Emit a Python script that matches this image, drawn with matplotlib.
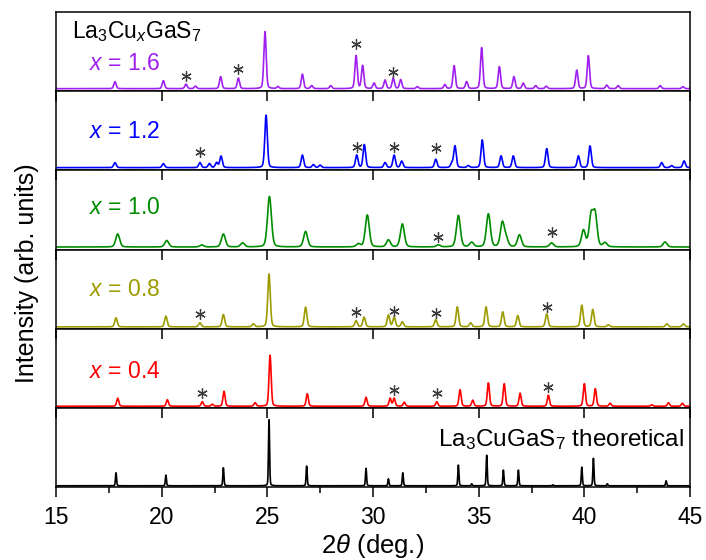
import numpy as np
import matplotlib
matplotlib.use("Agg")
import matplotlib.pyplot as plt

plt.rcParams['font.family'] = ['Liberation Sans', 'DejaVu Sans']
plt.rcParams['mathtext.fontset'] = 'custom'
plt.rcParams['mathtext.rm'] = 'Liberation Sans'
plt.rcParams['mathtext.it'] = 'Liberation Sans:italic'
plt.rcParams['mathtext.bf'] = 'Liberation Sans:bold'

# ---------------- data (peak positions in 2theta, heights in arb. units) -----
x16_pos = [17.79, 20.08, 21.15, 21.6, 22.79, 23.63, 24.89, 25.5, 26.66, 27.1, 28.0,
           29.2, 29.51, 30.05, 30.57, 30.96, 31.31, 32.1, 33.4, 33.84, 34.43, 35.14,
           35.98, 36.67, 37.11, 37.7, 38.2, 39.64, 40.19, 41.06, 41.6, 43.59, 44.67]
x16_int = [7, 8, 4.5, 2.5, 12, 10.5, 57, 2, 14.5, 3, 3,
           33, 23, 5.5, 8.5, 10.5, 9, 2, 4, 23, 7, 41,
           22, 12, 5.5, 3, 2.5, 18.5, 33, 3.5, 3, 3, 2]
x16_star_pos = [21.15, 23.63, 29.2, 30.96]
x16_star_y = [12.5, 19.5, 45, 17]

x12_pos = [17.79, 20.08, 21.81, 22.26, 22.6, 22.81, 24.94, 26.66, 27.18, 27.5, 29.23,
           29.59, 30.57, 31.0, 31.36, 32.97, 33.73, 33.88, 34.51, 35.17, 36.06, 36.64,
           38.22, 39.72, 40.27, 43.66, 44.13, 44.72]
x12_int = [5, 4, 5, 4, 5, 11.5, 52.5, 12.5, 3, 2.5, 12.5,
           23, 5, 12.5, 6.5, 8.3, 4, 21.7, 2, 27.7, 11.7, 11.7,
           19, 11.7, 21.7, 5, 2, 6.7]
x12_star_pos = [21.81, 29.23, 31.0, 32.97]
x12_star_y = [15.5, 21, 21, 19.5]

x10_pos = [17.92, 20.24, 21.9, 22.92, 23.83, 25.1, 26.81, 29.31, 29.73, 30.73, 31.39,
           33.09, 34.04, 34.67, 35.46, 36.12, 36.3, 36.93, 38.45, 39.96, 40.32, 40.51,
           40.98, 43.82]
x10_int = [13, 6.5, 2, 13, 4, 50.5, 15.5, 3, 32, 7, 23,
           2, 31.5, 4.5, 33, 24, 8, 12, 4, 16.5, 30.5, 32,
           4, 5]
x10_star_pos = [33.09, 38.45]
x10_star_y = [10.5, 15]

x08_pos = [17.84, 20.2, 21.81, 22.92, 24.34, 25.08, 26.81, 29.2, 29.58, 30.73, 31.0,
           31.39, 32.97, 33.99, 34.62, 35.35, 36.14, 36.85, 38.22, 39.88, 40.4, 41.14,
           43.9, 44.69]
x08_int = [9, 10.7, 4, 12.3, 3, 53, 19.7, 6.3, 9.7, 11.7, 9.7,
           5, 7.3, 20, 4, 20, 15, 11.3, 13, 21.7, 17.3, 2,
           3, 3]
x08_star_pos = [21.81, 29.2, 31.0, 32.97, 38.22]
x08_star_y = [12.5, 14.5, 16, 13.5, 20]

x04_pos = [17.92, 20.27, 21.92, 22.4, 22.95, 24.42, 25.13, 26.89, 29.67, 30.81, 31.0,
           31.48, 33.02, 34.12, 34.72, 35.46, 36.21, 36.96, 38.3, 40.0, 40.52, 41.22,
           43.19, 43.98, 44.64]
x04_int = [8, 6.5, 4.5, 2, 15, 3.5, 51, 12.5, 9, 8, 8,
           4, 4.5, 16.5, 6, 23.3, 22.5, 13, 11, 22.5, 17.5, 3,
           1.5, 3.5, 3]
x04_star_pos = [21.92, 31.0, 33.02, 38.3]
x04_star_y = [13.5, 16, 13.5, 19.5]

theo_pos = [17.84, 20.2, 22.92, 25.08, 26.86, 29.67, 30.73, 31.41, 34.04, 34.67, 35.38,
            36.17, 36.88, 38.51, 39.88, 40.43, 41.09, 43.87]
theo_int = [13, 10.7, 18, 66, 19.7, 17.5, 7, 13, 20.7, 2, 30.5,
            15.7, 15.7, 1, 18.7, 27.5, 2, 5]

panel_labels = ['1.6', '1.2', '1.0', '0.8', '0.4', None]
tick_labels = ['15', '20', '25', '30', '35', '40', '45']
colors = ['#A020F0', '#0000FF', '#008C00', '#9C9C00', '#FF0000', '#000000']
fwhm = [0.13, 0.14, 0.22, 0.14, 0.12, 0.06]
baseline_px = [2.5, 2.7, 2.5, 1.8, 1.6, 1.2]

panels = [
    (x16_pos, x16_int, x16_star_pos, x16_star_y),
    (x12_pos, x12_int, x12_star_pos, x12_star_y),
    (x10_pos, x10_int, x10_star_pos, x10_star_y),
    (x08_pos, x08_int, x08_star_pos, x08_star_y),
    (x04_pos, x04_int, x04_star_pos, x04_star_y),
    (theo_pos, theo_int, [], []),
]

tt = np.arange(15.0, 45.0001, 0.01)


def profile(pos, inten, w):
    y = np.zeros_like(tt)
    sig = w / 2.3548
    for p, h in zip(pos, inten):
        g = np.exp(-0.5 * ((tt - p) / sig) ** 2)
        l = 1.0 / (1.0 + ((tt - p) / (w / 2)) ** 2)
        y += h * (0.75 * g + 0.25 * l)
    return y


W, H = 706, 560
fig = plt.figure(figsize=(W / 100, H / 100), dpi=100)
left, right = 56 / W, 690 / W
top_px, bot_px = 12, 487
ph = (bot_px - top_px) / 6.0
label_y_px = [63, 131, 207, 289, 371.5]

axes = []
for i, (pos, inten, spos, sy) in enumerate(panels):
    ytop = top_px + i * ph
    ax = fig.add_axes([left, 1 - (ytop + ph) / H, right - left, ph / H])
    axes.append(ax)
    yy = profile(pos, inten, fwhm[i])
    ax.plot(tt, yy, color=colors[i], lw=1.2, solid_joinstyle='round')
    if spos:
        ax.plot(spos, sy, linestyle='none', marker=(6, 2, 0), markersize=7.5,
                markeredgewidth=0.9, color='#3a3a3a')
    ax.set_xlim(15, 45)
    ax.set_ylim(-baseline_px[i], ph - baseline_px[i])
    ax.set_yticks([])
    for s in ax.spines.values():
        s.set_linewidth(1.1)
    if panel_labels[i] is not None:
        ax.text((89 - 56) / 634, 1 - (label_y_px[i] - ytop) / ph,
                r'$x$ = ' + panel_labels[i], color=colors[i], fontsize=16.5,
                transform=ax.transAxes, va='center', ha='left')

axes[0].text((72 - 56) / 634, 1 - (32 - top_px) / ph, r'La$_3$Cu$_x$GaS$_7$',
             transform=axes[0].transAxes, fontsize=16.5, va='center', ha='left', color='black')
axes[5].text((684 - 56) / 634, 1 - (440 - (top_px + 5 * ph)) / ph,
             r'La$_3$CuGaS$_7$ theoretical', transform=axes[5].transAxes,
             fontsize=17.5, va='center', ha='right', color='black')

major = [15, 20, 25, 30, 35, 40, 45]
minor = [17.5, 22.5, 27.5, 32.5, 37.5, 42.5]
for i, ax in enumerate(axes):
    ax.set_xticks(major)
    if i == 0:
        ax.tick_params(axis='x', which='both', bottom=False, top=False, labelbottom=False)
    elif i < 5:
        ax.tick_params(axis='x', which='major', bottom=False, top=True, direction='in',
                       length=7, width=1.1, labelbottom=False)
    else:
        ax.set_xticks(minor, minor=True)
        ax.tick_params(axis='x', which='major', bottom=True, top=True, direction='out',
                       length=7, width=1.1, labelsize=16.5, pad=6.5)
        ax.tick_params(axis='x', which='minor', bottom=True, top=False, direction='out',
                       length=4, width=1.1)
        ax.set_xticklabels(tick_labels)

# top ticks of bottom panel point inward
for t in axes[5].xaxis.get_major_ticks():
    t.tick2line.set_marker(3)  # TICKDOWN
    t.tick2line.set_markersize(7)

axes[5].set_xlabel(r'2$\theta$ (deg.)', fontsize=18.5, labelpad=2)
fig.text(27 / W, 1 - 273 / H, 'Intensity (arb. units)', rotation=90, fontsize=18,
         ha='center', va='center')

fig.savefig('out.png', dpi=100)
